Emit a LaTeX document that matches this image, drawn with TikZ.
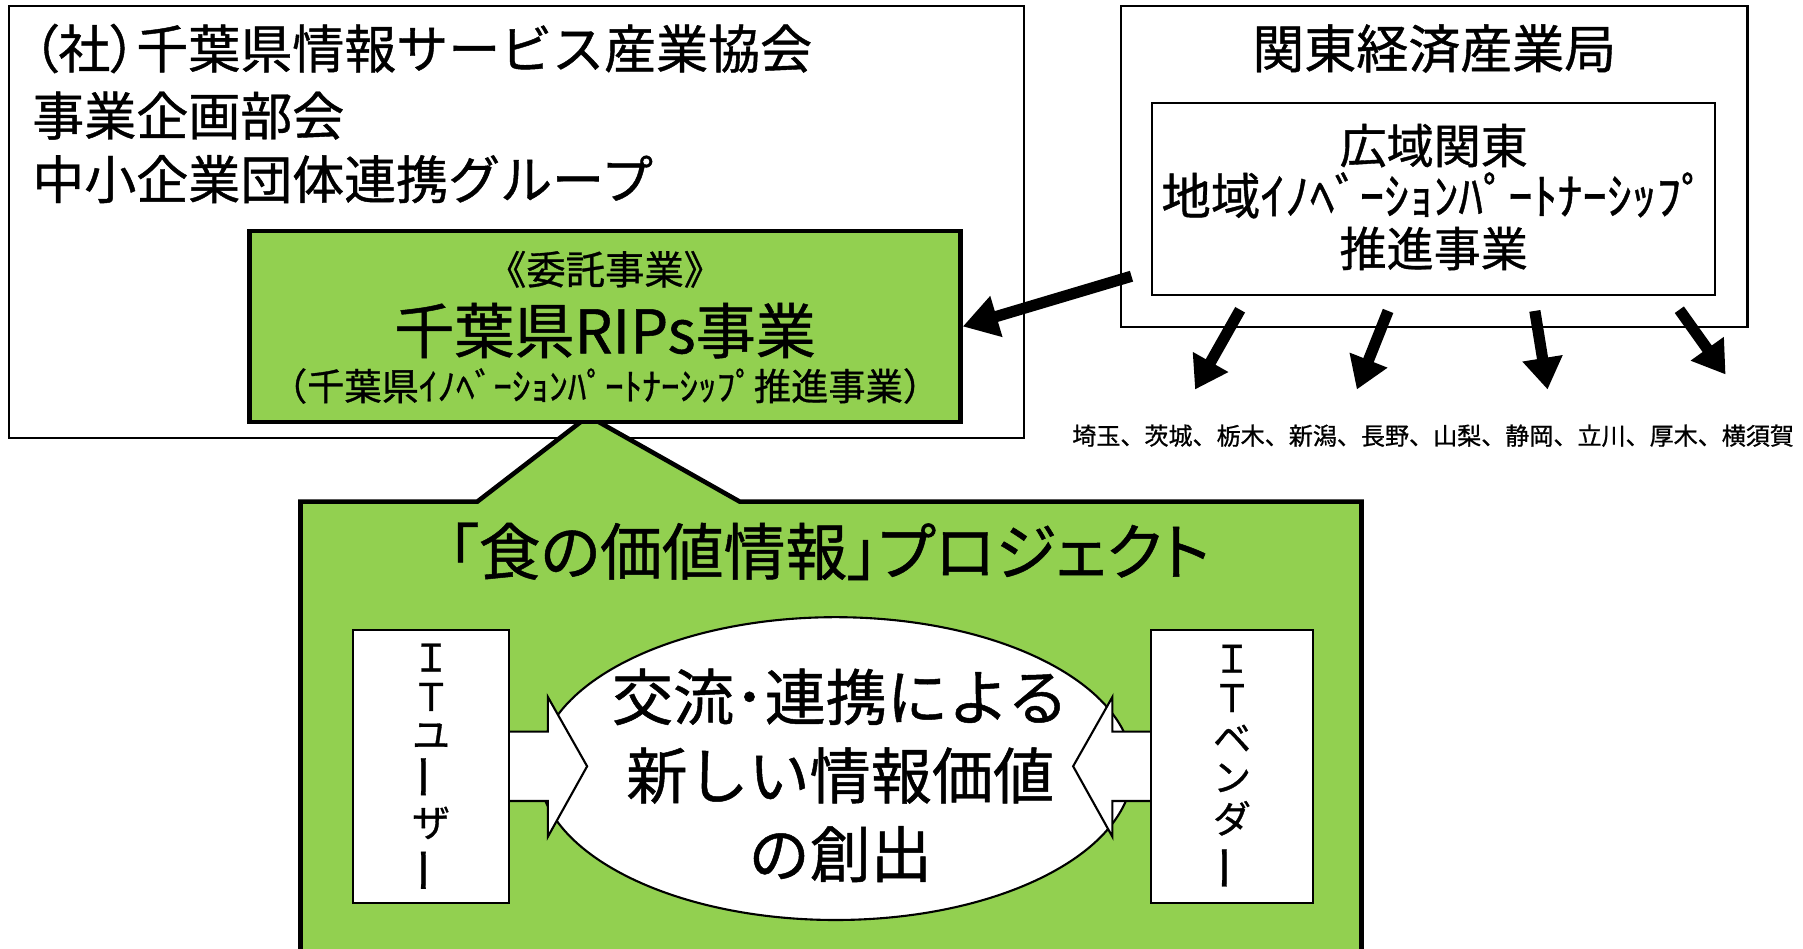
\documentclass[tikz,border=0pt]{standalone}
\usepackage{fontspec}
\setmainfont{Noto Sans CJK JP}[FakeBold=0.8]
\newfontfamily\jpp{Noto Sans CJK JP}[RawFeature=+palt,FakeBold=0.8]
\usetikzlibrary{shapes.geometric,arrows.meta}
\definecolor{lgreen}{HTML}{92D050}
\newcommand\fsz[1]{\fontsize{#1pt}{#1pt}\selectfont}
\newcommand\pw[1]{#1*0.01156cm}
\begin{document}
\begin{tikzpicture}[x=0.01156cm,y=-0.01156cm,
  thinbox/.style={draw=black,line width=0.6pt,fill=white,inner sep=0,rectangle},
  greenbox/.style={draw=black,line width=1.3pt,fill=lgreen,inner sep=0,rectangle},
  txt/.style={inner sep=0,outer sep=0,text=black},
  vchar/.style={inner sep=0,outer sep=0,text=black,font=\fsz{10.8}},
  vbar/.style={inner sep=0,outer sep=0,text=black,font=\fsz{13.2},rotate=90},
  bigarrow/.style={line width=3.2pt,-{Triangle[length=10pt,width=11.5pt]}},
  downarrow/.style={line width=3.2pt,-{Triangle[length=9pt,width=11pt]}},
  blockarrow/.style={draw=black,line width=0.6pt,fill=white,line join=miter}]
\useasboundingbox (0,0) rectangle (1560,821);
\clip (0,0) rectangle (1560,821);
\fill[white] (0,0) rectangle (1560,821);

% top-left association box
\node[thinbox,minimum width=\pw{878},minimum height=\pw{374}] (assoc) at (447,192) {};
% project pentagon
\draw[line width=1.3pt,fill=lgreen,line join=miter] (260,900) -- (260,434) -- (413,434) -- (509,360) -- (640,434) -- (1178,434) -- (1178,900) -- cycle;
% RIPs box
\node[greenbox,minimum width=\pw{615},minimum height=\pw{165}] (rips) at (523.5,282.5) {};
% right boxes
\node[thinbox,minimum width=\pw{542},minimum height=\pw{278}] (kanto) at (1241,144) {};
\node[thinbox,minimum width=\pw{487},minimum height=\pw{166}] (inner) at (1240.5,172) {};

% ellipse and block arrows
\node[draw=black,line width=0.6pt,fill=white,ellipse,inner sep=0,minimum width=\pw{514},minimum height=\pw{262}] (ell) at (723,665) {};
\draw[blockarrow] (430,633) -- (474,633) -- (474,603) -- (508,663) -- (474,724) -- (474,693) -- (430,693) -- cycle;
\draw[blockarrow] (1010,633) -- (962.5,633) -- (962.5,603) -- (928.5,663) -- (962.5,724) -- (962.5,693) -- (1010,693) -- cycle;
\node[thinbox,minimum width=\pw{135},minimum height=\pw{236}] (user) at (373,663) {};
\node[thinbox,minimum width=\pw{140},minimum height=\pw{236}] (vendor) at (1066,663) {};

% texts
\node[txt,anchor=west,font=\fsz{14.8}] (t1) at (28,42) {{\jpp （社）}千葉県情報サービス産業協会};
\node[txt,anchor=west,font=\fsz{14.8}] (t2) at (28,100) {事業企画部会};
\node[txt,anchor=west,font=\fsz{14.8}] (t3) at (28,155) {中小企業団体連携グループ};

\node[txt,font=\fsz{11.2}] (r1) at (523.5,233) {《委託事業》};
\node[txt,font=\fsz{17.1}] (r2) at (523.5,286) {千葉県RIPs事業};
\node[txt,font=\fsz{10.6}] (r3) at (523.5,334) {（千葉県ｲﾉﾍﾞｰｼｮﾝﾊﾟｰﾄﾅｰｼｯﾌﾟ推進事業）};

\node[txt,font=\fsz{14.8}] (k1) at (1241,42) {関東経済産業局};
\node[txt,font=\fsz{13.4}] (k2) at (1240.5,126) {広域関東};
\node[txt,font=\fsz{14.1}] (k3) at (1240.5,169) {地域ｲﾉﾍﾞｰｼｮﾝﾊﾟｰﾄﾅｰｼｯﾌﾟ};
\node[txt,font=\fsz{13.4}] (k4) at (1240.5,215) {推進事業};

\node[txt,font=\fsz{6.85}] (lst) at (1240,377) {埼玉、茨城、栃木、新潟、長野、山梨、静岡、立川、厚木、横須賀};

\node[txt,font=\fsz{17.6}\jpp] (ptitle) at (717,477) {「食の価値情報」プロジェクト};

\node[txt,font=\fsz{17.4}] (c1) at (727,603) {交流･連携による};
\node[txt,font=\fsz{17.4}] (c2) at (727,671) {新しい情報価値};
\node[txt,font=\fsz{17.4}] (c3) at (727,739) {の創出};

\node[vchar] (u1) at (373,569) {Ｉ};
\node[vchar] (u2) at (373,603) {Ｔ};
\node[vchar] (u3) at (373,637) {ユ};
\node[vbar] (u4) at (373,672) {ー};
\node[vchar] (u5) at (373,712) {ザ};
\node[vbar] (u6) at (373,753) {ー};

\node[vchar] (v1) at (1066,570) {Ｉ};
\node[vchar] (v2) at (1066,604) {Ｔ};
\node[vchar] (v3) at (1066,639) {ベ};
\node[vchar] (v4) at (1066,673) {ン};
\node[vchar] (v5) at (1066,708) {ダ};
\node[vbar] (v6) at (1066,751) {ー};

% arrows
\coordinate (a0) at (979,239);
\draw[bigarrow] (a0) -- (rips.east);
\coordinate (d1s) at (1073,268); \coordinate (d1e) at (1034,337);
\coordinate (d2s) at (1201,269); \coordinate (d2e) at (1174,337);
\coordinate (d3s) at (1328,269); \coordinate (d3e) at (1339,337);
\coordinate (d4s) at (1453,268); \coordinate (d4e) at (1493,324);
\draw[downarrow] (d1s) -- (d1e);
\draw[downarrow] (d2s) -- (d2e);
\draw[downarrow] (d3s) -- (d3e);
\draw[downarrow] (d4s) -- (d4e);
\end{tikzpicture}
\end{document}
